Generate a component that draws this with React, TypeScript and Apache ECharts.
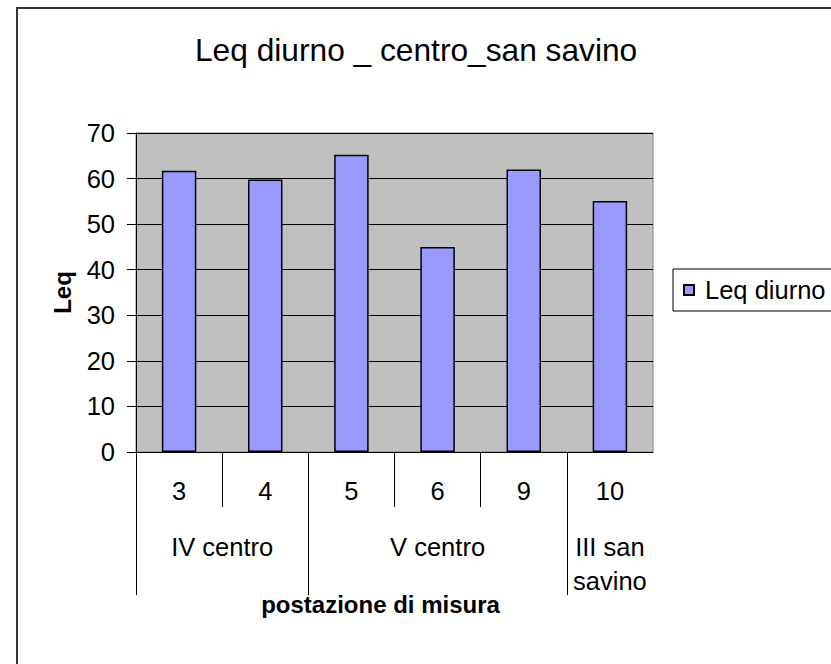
import React, { useEffect, useRef } from "react";
import * as echarts from "echarts";

const chartTitle = "Leq diurno _ centro_san savino";
const seriesName = "Leq diurno";
const categories = ["3", "4", "5", "6", "9", "10"];
const leqDiurno = [61.7, 59.8, 65.2, 45.0, 62.0, 55.1];
const groupNames = ["IV centro", "V centro", "III san\nsavino"];
const groupSizes = [2, 3, 1];
const yMin = 0;
const yMax = 70;
const yStep = 10;
const yAxisTitle = "Leq";
const xAxisTitle = "postazione di misura";

const FONT = "'Liberation Sans', Arial, sans-serif";
const LABEL_SIZE = 25.5;

export default function App() {
  const ref = useRef<HTMLDivElement>(null);

  useEffect(() => {
    if (!ref.current) return;
    const chart = echarts.init(ref.current, undefined, { renderer: "svg" });

    // derive group boundaries / centres (in category units) from group sizes
    const groupStarts: number[] = [];
    const groupCenters: number[] = [];
    let acc = 0;
    groupSizes.forEach((s) => {
      groupStarts.push(acc);
      groupCenters.push(acc + s / 2);
      acc += s;
    });
    const innerBounds: number[] = [];
    for (let i = 1; i < categories.length; i++) {
      if (!groupStarts.includes(i)) innerBounds.push(i);
    }

    const option: any = {
      animation: false,
      backgroundColor: "#ffffff",
      textStyle: { fontFamily: FONT, color: "#000" },
      title: {
        text: chartTitle,
        left: 190,
        top: 29,
        textStyle: { fontFamily: FONT, fontSize: 31.7, fontWeight: "normal", color: "#000" },
      },
      legend: {
        left: 673,
        top: 269,
        orient: "vertical",
        icon: "rect",
        itemWidth: 10,
        itemHeight: 10,
        padding: [7, 12, 7, 10],
        borderColor: "#000",
        borderWidth: 1,
        backgroundColor: "#fff",
        textStyle: { fontFamily: FONT, fontSize: LABEL_SIZE, color: "#000", lineHeight: 28, padding: [0, 0, 0, 6] },
        data: [seriesName],
      },
      grid: {
        left: 136,
        top: 133,
        width: 517,
        height: 319,
        show: true,
        backgroundColor: "#C0C0C0",
        borderColor: "#808080",
        borderWidth: 1,
        containLabel: false,
        outerBoundsMode: "none",
      },
      xAxis: [
        {
          type: "category",
          data: categories,
          position: "bottom",
          axisLine: { show: true, lineStyle: { color: "#000", width: 1 } },
          axisTick: { show: false },
          axisLabel: { fontFamily: FONT, fontSize: LABEL_SIZE, color: "#000", margin: 22, lineHeight: 34 },
          splitLine: { show: false },
        },
        {
          type: "value",
          min: 0,
          max: categories.length,
          position: "bottom",
          axisLine: { show: false },
          axisTick: {
            show: true,
            customValues: groupStarts,
            length: 143,
            lineStyle: { color: "#000", width: 1 },
          },
          axisLabel: {
            show: true,
            customValues: groupCenters,
            formatter: (v: number) => {
              const idx = groupCenters.findIndex((c) => Math.abs(c - v) < 1e-6);
              return idx >= 0 ? groupNames[idx] : "";
            },
            fontFamily: FONT,
            fontSize: LABEL_SIZE,
            color: "#000",
            margin: 78,
            lineHeight: 34,
            hideOverlap: false,
          },
          splitLine: { show: false },
          name: xAxisTitle,
          nameLocation: "middle",
          nameGap: 140,
          nameMoveOverlap: false,
          nameTextStyle: { fontFamily: FONT, fontSize: 24, fontWeight: "bold", color: "#000", padding: [0, 28, 0, 0] },
        },
        {
          type: "value",
          min: 0,
          max: categories.length,
          position: "bottom",
          axisLine: { show: false },
          axisTick: {
            show: true,
            customValues: innerBounds,
            length: 55,
            lineStyle: { color: "#000", width: 1 },
          },
          axisLabel: { show: false },
          splitLine: { show: false },
        },
      ],
      yAxis: {
        type: "value",
        min: yMin,
        max: yMax,
        interval: yStep,
        axisLine: { show: true, lineStyle: { color: "#000", width: 1 } },
        axisTick: { show: true, length: 9, lineStyle: { color: "#000" } },
        axisLabel: { fontFamily: FONT, fontSize: LABEL_SIZE, color: "#000", margin: 21 },
        splitLine: { show: true, lineStyle: { color: "#000", width: 1 } },
        name: yAxisTitle,
        nameLocation: "middle",
        nameGap: 62,
        nameMoveOverlap: false,
        nameTextStyle: { fontFamily: FONT, fontSize: 24, fontWeight: "bold", color: "#000" },
      },
      graphic: [
        {
          type: "rect",
          shape: { x: 17, y: 8, width: 1000, height: 1000 },
          style: { fill: "none", stroke: "#333", lineWidth: 2 },
          silent: true,
          z: 100,
        },
      ],
      series: [
        {
          name: seriesName,
          type: "bar",
          xAxisIndex: 0,
          data: leqDiurno,
          barWidth: "40%",
          itemStyle: { color: "#9999FF", borderColor: "#000", borderWidth: 1.5 },
        },
      ],
    };

    chart.setOption(option);
    return () => chart.dispose();
  }, []);

  return (
    <div
      ref={ref}
      style={{ position: "absolute", left: 0, top: 0, width: 831, height: 664 }}
    />
  );
}
